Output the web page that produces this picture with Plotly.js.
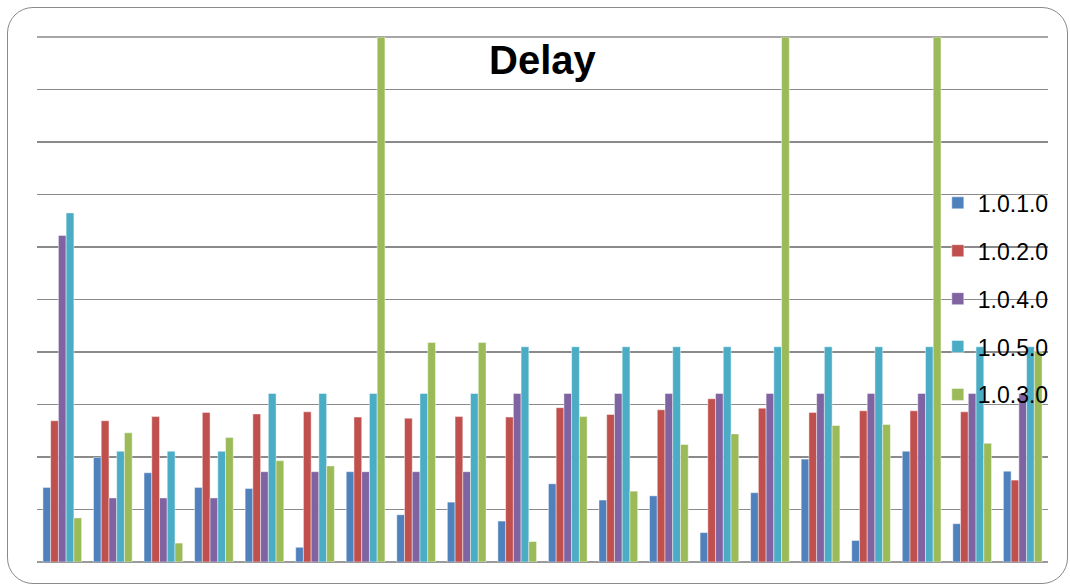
<!DOCTYPE html>
<html>
<head>
<meta charset="utf-8">
<script src="https://cdn.plot.ly/plotly-3.0.1.min.js"></script>
<style>
  html, body { margin: 0; padding: 0; background: #ffffff; }
  #wrap { position: relative; width: 1070px; height: 585px; overflow: hidden; }
  #chart { position: absolute; left: 0; top: 0; width: 1070px; height: 585px; }
  #frame { position: absolute; left: 7px; top: 7px; width: 1061px; height: 577px; box-sizing: border-box;
           border: 1.6px solid #8a8a8a; border-radius: 26px; pointer-events: none; }
</style>
</head>
<body>
<div id="wrap">
  <div id="chart"></div>
  <div id="frame"></div>
</div>
<script>
const categories = ["1","2","3","4","5","6","7","8","9","10","11","12","13","14","15","16","17","18","19","20"];
const seriesNames = ["1.0.1.0", "1.0.2.0", "1.0.4.0", "1.0.5.0", "1.0.3.0"];
const seriesColors = ["#4F81BD", "#C0504D", "#8064A2", "#4BACC6", "#9BBB59"];

const v1010 = [1.42, 1.99, 1.70, 1.42, 1.40, 0.28, 1.72, 0.90, 1.14, 0.78, 1.49, 1.18, 1.26, 0.56, 1.32, 1.96, 0.41, 2.11, 0.73, 1.73];
const v1020 = [2.69, 2.69, 2.77, 2.85, 2.82, 2.86, 2.76, 2.74, 2.77, 2.76, 2.94, 2.81, 2.90, 3.11, 2.93, 2.85, 2.88, 2.88, 2.86, 1.56];
const v1040 = [6.22, 1.22, 1.22, 1.22, 1.72, 1.72, 1.72, 1.72, 1.72, 3.21, 3.21, 3.21, 3.21, 3.21, 3.21, 3.21, 3.21, 3.21, 3.21, 3.21];
const v1050 = [6.65, 2.11, 2.11, 2.11, 3.21, 3.21, 3.21, 3.21, 3.21, 4.10, 4.10, 4.10, 4.10, 4.10, 4.10, 4.10, 4.10, 4.10, 4.10, 4.10];
const v1030 = [0.84, 2.46, 0.36, 2.37, 1.93, 1.83, 10, 4.18, 4.18, 0.39, 2.77, 1.35, 2.24, 2.44, 10, 2.60, 2.62, 10, 2.26, 4.01];

const seriesValues = [v1010, v1020, v1040, v1050, v1030];

const traces = seriesNames.map((name, i) => ({
  type: "bar",
  name: name,
  x: categories,
  y: seriesValues[i],
  legendgroup: "g" + i,
  marker: { color: seriesColors[i], line: { color: "rgba(255,255,255,0.55)", width: 0.8 } },
  hoverinfo: "skip"
}));

const layout = {
  width: 1070,
  height: 585,
  paper_bgcolor: "#ffffff",
  plot_bgcolor: "#ffffff",
  margin: { l: 37, r: 22, t: 37, b: 23, pad: 0 },
  barmode: "group",
  bargap: 0.235,
  bargroupgap: 0,
  showlegend: true,
  title: {
    text: "<b>Delay</b>",
    font: { family: "Liberation Sans, Arial, sans-serif", size: 40, color: "#000000" },
    x: 0.507, xanchor: "center",
    y: 0.897, yanchor: "middle", yref: "container"
  },
  xaxis: {
    type: "category",
    showticklabels: false,
    showgrid: false,
    zeroline: false,
    showline: false,
    ticks: ""
  },
  yaxis: {
    range: [0, 10],
    dtick: 1,
    showticklabels: false,
    showgrid: true,
    gridcolor: "#8a8a8a",
    gridwidth: 1.3,
    zeroline: true,
    zerolinecolor: "#9a9a9a",
    zerolinewidth: 1.5,
    showline: false,
    ticks: "",
    fixedrange: true
  },
  shapes: [{
    type: "line", xref: "paper", yref: "paper",
    x0: 0, x1: 1, y0: 1, y1: 1,
    line: { color: "#8a8a8a", width: 1.3 },
    layer: "below"
  }],
  legend: {
    x: 0.891, xanchor: "left",
    y: 0.725, yanchor: "top",
    bgcolor: "rgba(0,0,0,0)",
    borderwidth: 0,
    traceorder: "grouped",
    tracegroupgap: 15,
    font: { family: "Liberation Sans, Arial, sans-serif", size: 23, color: "#000000" },
    itemclick: false,
    itemdoubleclick: false
  }
};

Plotly.newPlot("chart", traces, layout, { staticPlot: true, displayModeBar: false });
</script>
</body>
</html>
